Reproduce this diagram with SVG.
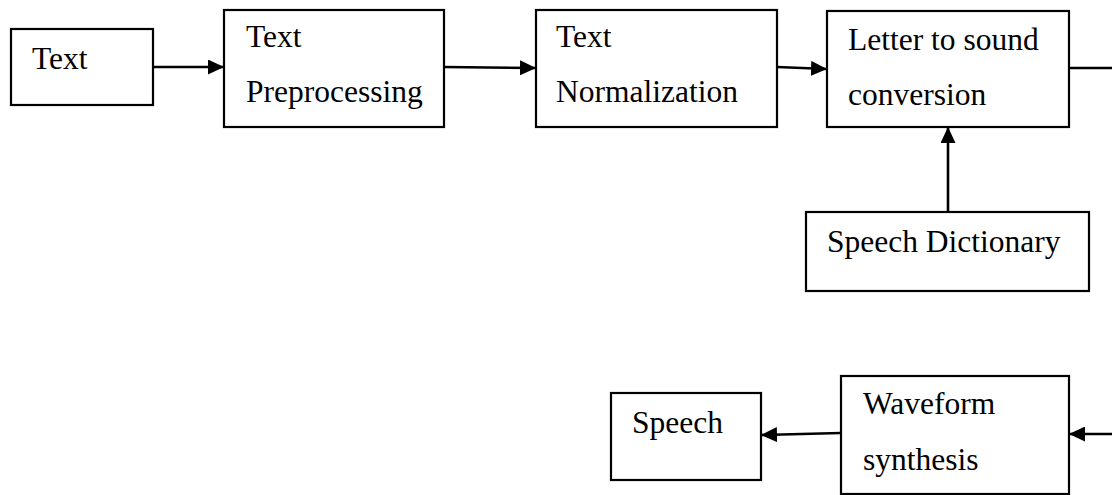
<svg xmlns="http://www.w3.org/2000/svg" width="1112" height="495" viewBox="0 0 1112 495">
<defs>
<style>
.box{fill:#fff;stroke:#000;stroke-width:2.2}
.lbl{font-family:"Liberation Serif","Times New Roman",serif;font-size:31.5px;fill:#000}
.conn{stroke:#000;stroke-width:2.6;fill:none}
</style>
<marker id="ah" viewBox="0 0 16 15" refX="16" refY="7.5" markerWidth="16" markerHeight="15" markerUnits="userSpaceOnUse" orient="auto">
<path d="M0,0 L16,7.5 L0,15 Z" fill="#000"/>
</marker>
</defs>
<rect width="1112" height="495" fill="#fff"/>
<g id="n-text">
<rect class="box" x="11" y="29" width="142" height="76"/>
<text class="lbl" x="32" y="69">Text</text>
</g>
<g id="n-preprocessing">
<rect class="box" x="224" y="10" width="220" height="117"/>
<text class="lbl" x="246" y="47">Text</text>
<text class="lbl" x="246" y="102">Preprocessing</text>
</g>
<g id="n-normalization">
<rect class="box" x="536" y="10" width="241" height="117"/>
<text class="lbl" x="556" y="47">Text</text>
<text class="lbl" x="556" y="102">Normalization</text>
</g>
<g id="n-lts">
<rect class="box" x="827" y="11" width="242" height="116"/>
<text class="lbl" x="848" y="50">Letter to sound</text>
<text class="lbl" x="848" y="105">conversion</text>
</g>
<g id="n-dict">
<rect class="box" x="806" y="212" width="283" height="79"/>
<text class="lbl" x="827" y="252">Speech Dictionary</text>
</g>
<g id="n-waveform">
<rect class="box" x="841" y="376" width="228" height="118"/>
<text class="lbl" x="863" y="414">Waveform</text>
<text class="lbl" x="863" y="470">synthesis</text>
</g>
<g id="n-speech">
<rect class="box" x="611" y="393" width="150" height="87"/>
<text class="lbl" x="632" y="433">Speech</text>
</g>
<g id="connectors">
<line class="conn" x1="153" y1="67" x2="224" y2="67" marker-end="url(#ah)"/>
<line class="conn" x1="444" y1="67" x2="536" y2="68" marker-end="url(#ah)"/>
<line class="conn" x1="777" y1="67" x2="827" y2="69" marker-end="url(#ah)"/>
<line class="conn" x1="1069" y1="68" x2="1112" y2="68"/>
<line class="conn" x1="948" y1="212" x2="948" y2="127" marker-end="url(#ah)"/>
<line class="conn" x1="1112" y1="434" x2="1069" y2="434" marker-end="url(#ah)"/>
<line class="conn" x1="841" y1="433" x2="761" y2="435" marker-end="url(#ah)"/>
</g>
</svg>
